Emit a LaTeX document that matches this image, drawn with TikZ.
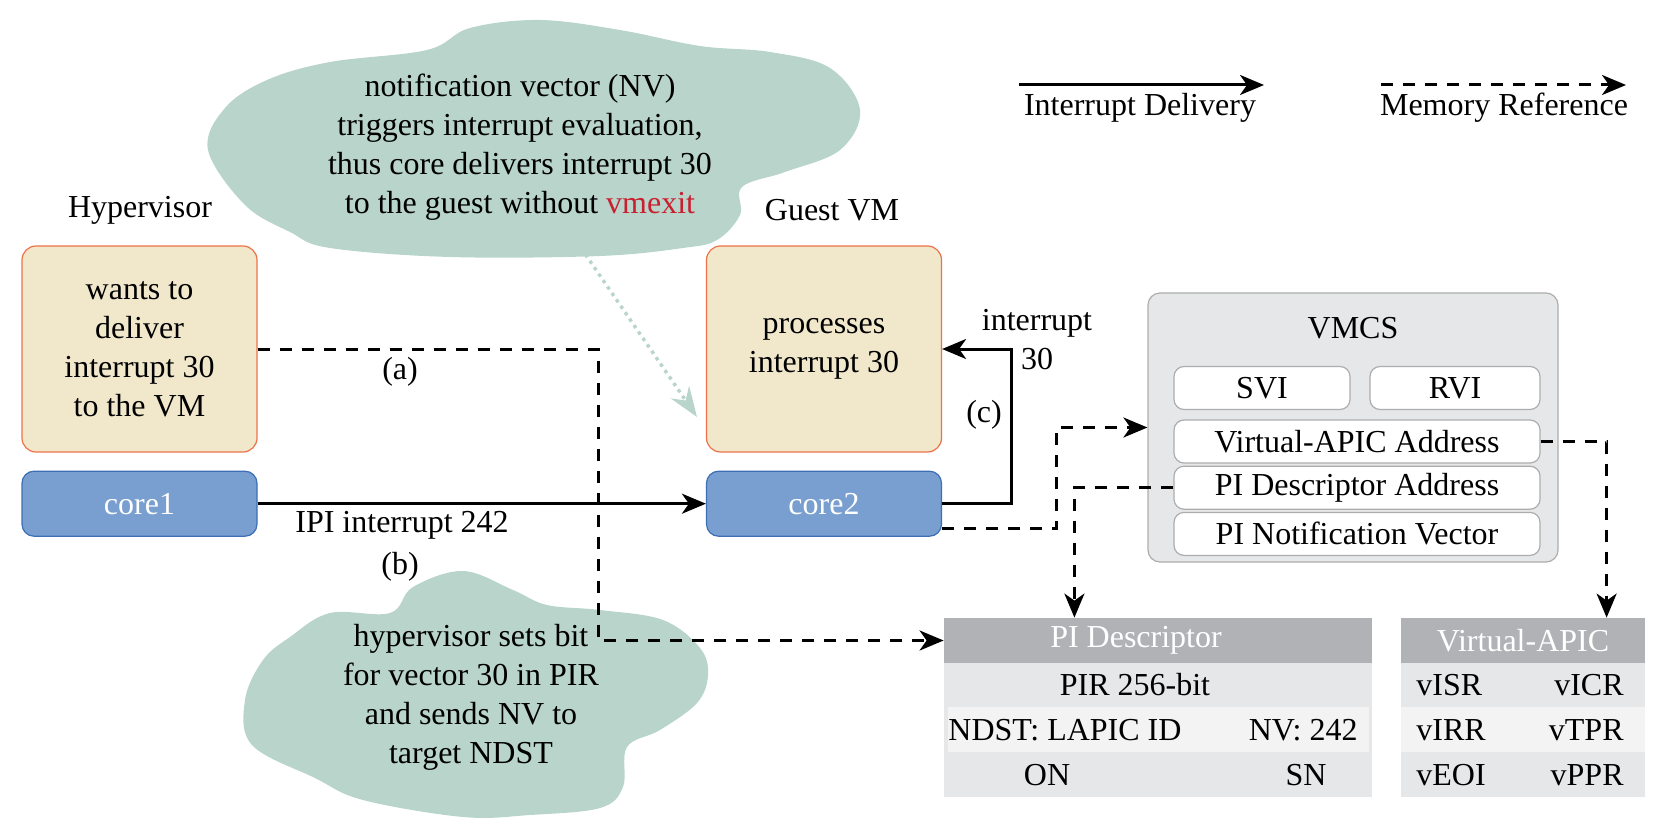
\documentclass[tikz,border=0pt]{standalone}
\usepackage{fontspec}
\setmainfont{Liberation Serif}[Ligatures=TeX]
\usepackage{tikz}
\usetikzlibrary{arrows.meta,positioning,calc}
\definecolor{taskfill}{HTML}{F1E8CC}
\definecolor{taskline}{HTML}{EE7248}
\definecolor{corefill}{HTML}{789FCF}
\definecolor{coreline}{HTML}{3D6FB6}
\definecolor{cloudcol}{HTML}{B8D4CB}
\definecolor{vmcsfill}{HTML}{E6E7E9}
\definecolor{vmcsline}{HTML}{ADADAD}
\definecolor{headfill}{HTML}{B1B2B6}
\definecolor{rowlight}{HTML}{F3F3F3}
\definecolor{exitcol}{HTML}{C8202F}

\begin{document}
\begin{tikzpicture}[x=0.5pt,y=-0.5pt,>={Stealth[length=12pt,width=10pt,inset=3.5pt]},
  every node/.style={font=\rmfamily\fontsize{16}{19.5}\selectfont,inner sep=0pt,align=center},
  task/.style={draw=taskline,fill=taskfill,line width=0.6pt,rounded corners=7pt,
    minimum width=117.5pt,minimum height=103pt},
  core/.style={draw=coreline,fill=corefill,line width=0.6pt,rounded corners=6pt,
    minimum width=117.5pt,minimum height=32.5pt,text=white},
  field/.style={draw=vmcsline,fill=white,line width=0.6pt,rounded corners=5pt,minimum height=21.5pt},
  head/.style={fill=headfill,minimum height=22.5pt},
  deliver/.style={->,line width=1.5pt},
  memref/.style={->,line width=1.5pt,dash pattern=on 6pt off 5pt}]
  \useasboundingbox (0,0) rectangle (1657,828);
  % clouds
  \fill[cloudcol] plot[smooth cycle,tension=0.6] coordinates {(208,150) (225,108) (267,80) (330,62) (427,50) (470,28) (540,20) (620,30) (700,46) (770,52) (830,68) (860,110) (840,150) (785,172) (742,187) (740,215) (717,240) (683,248) (600,256) (450,257) (330,248) (290,232) (245,205)};
  \fill[cloudcol] plot[smooth cycle,tension=0.6] coordinates {(245,700) (263,660) (290,637) (330,613) (390,613) (413,587) (463,571) (513,590) (547,605) (600,610) (663,620) (700,648) (708,675) (697,703) (660,730) (627,747) (623,787) (600,808) (530,815) (463,817) (363,800) (315,778) (252,745)};
  \node (nvnote) at (520,147) {notification vector (NV)\\triggers interrupt evaluation,\\thus core delivers interrupt 30\\to the guest without \textcolor{exitcol}{vmexit}};
  \node (pirnote) at (471,697) {hypervisor sets bit\\for vector 30 in PIR\\and sends NV to\\target NDST};
  \coordinate (hintfrom) at (581,248);
  \coordinate (hintto) at (697,417);
  \draw[cloudcol,line width=1.7pt,dash pattern=on 1.7pt off 2.2pt,-{Stealth[length=15pt,width=11pt,inset=5pt]}] (hintfrom) -- (hintto);

  % hypervisor and guest
  \node (hyplbl) at (140,210) {Hypervisor};
  \node[task] (hyp) at (139.5,349) {wants to\\deliver\\interrupt 30\\to the VM};
  \node[core,below=9pt of hyp] (core1) {core1};
  \node (guestlbl) at (832,210) {Guest VM};
  \node[task] (guest) at (824,349) {processes\\interrupt 30};
  \node[core,below=9pt of guest] (core2) {core2};

  % vmcs
  \node[draw=vmcsline,fill=vmcsfill,line width=0.6pt,rounded corners=6pt,minimum width=205pt,minimum height=134.5pt] (vmcs) at (1353,427.5) {};
  \node (vmcslbl) at (1353,328) {VMCS};
  \node[field,minimum width=88pt] (svi) at (1262,388) {SVI};
  \node[field,minimum width=85pt] (rvi) at (1455,388) {RVI};
  \node[field,minimum width=183pt] (vaaddr) at (1357,441.5) {Virtual-APIC Address};
  \node[field,minimum width=183pt,below=1pt of vaaddr] (pidaddr) {PI Descriptor Address};
  \node[field,minimum width=183pt,below=1pt of pidaddr] (pinv) {PI Notification Vector};

  % pi descriptor
  \fill[vmcsfill] (944,663) rectangle (1372,797);
  \fill[rowlight] (948,707) rectangle (1369,752);
  \node[head,minimum width=214pt] (pidhead) at (1158,640.5) {};
  \node[text=white] (pidtitle) at (1136,640.5) {PI Descriptor};
  \node (pir) at (1135,685) {PIR 256-bit};
  \node[anchor=west] (ndst) at (948,730) {NDST: LAPIC ID};
  \node[anchor=east] (nv) at (1358,730) {NV: 242};
  \node (on) at (1047,775) {ON};
  \node (sn) at (1306,775) {SN};

  % virtual-apic page
  \fill[vmcsfill] (1401,663) rectangle (1645,797);
  \fill[rowlight] (1401,707) rectangle (1645,752);
  \node[head,minimum width=122pt,text=white] (vahead) at (1523,640.5) {Virtual-APIC};
  \foreach \l/\r [count=\i] in {vISR/vICR,vIRR/vTPR,vEOI/vPPR} {
    \node[anchor=west] (regl\i) at (1416,640+45*\i) {\l};
    \node[anchor=east] (regr\i) at (1624,640+45*\i) {\r};
  }

  % interrupt delivery
  \draw[deliver] (core1) -- (core2);
  \draw[deliver] (core2.east) -- ++(69,0) |- (guest.east);
  \node (lblipi) at (402,525) {IPI interrupt 242};
  \node (lblb) at (400,567) {(b)};
  \node (lblc) at (984,415) {(c)};
  \node (lblint) at (1037,340) {interrupt\\30};

  % memory references
  \coordinate (abend) at (598,640.5);
  \draw[memref] (hyp.east) -| (abend) -- (pidhead.west);
  \node (lbla) at (400,372) {(a)};
  \draw[memref] ([yshift=4pt]core2.south east) -- ++(114,0) |- (vmcs.west);
  \draw[memref] (pidaddr.west) -- ++(-99,0) coordinate (pidbend) -- (pidbend |- pidhead.north);
  \draw[memref] (vaaddr.east) -- ++(66,0) coordinate (vabend) -- (vabend |- vahead.north);

  % legend
  \coordinate (legd1) at (1019,85);
  \coordinate (legd2) at (1264,85);
  \draw[deliver] (legd1) -- (legd2);
  \node (legdlbl) at (1140,108) {Interrupt Delivery};
  \coordinate (legm1) at (1381,85);
  \coordinate (legm2) at (1626,85);
  \draw[memref] (legm1) -- (legm2);
  \node (legmlbl) at (1504,108) {Memory Reference};
\end{tikzpicture}
\end{document}
